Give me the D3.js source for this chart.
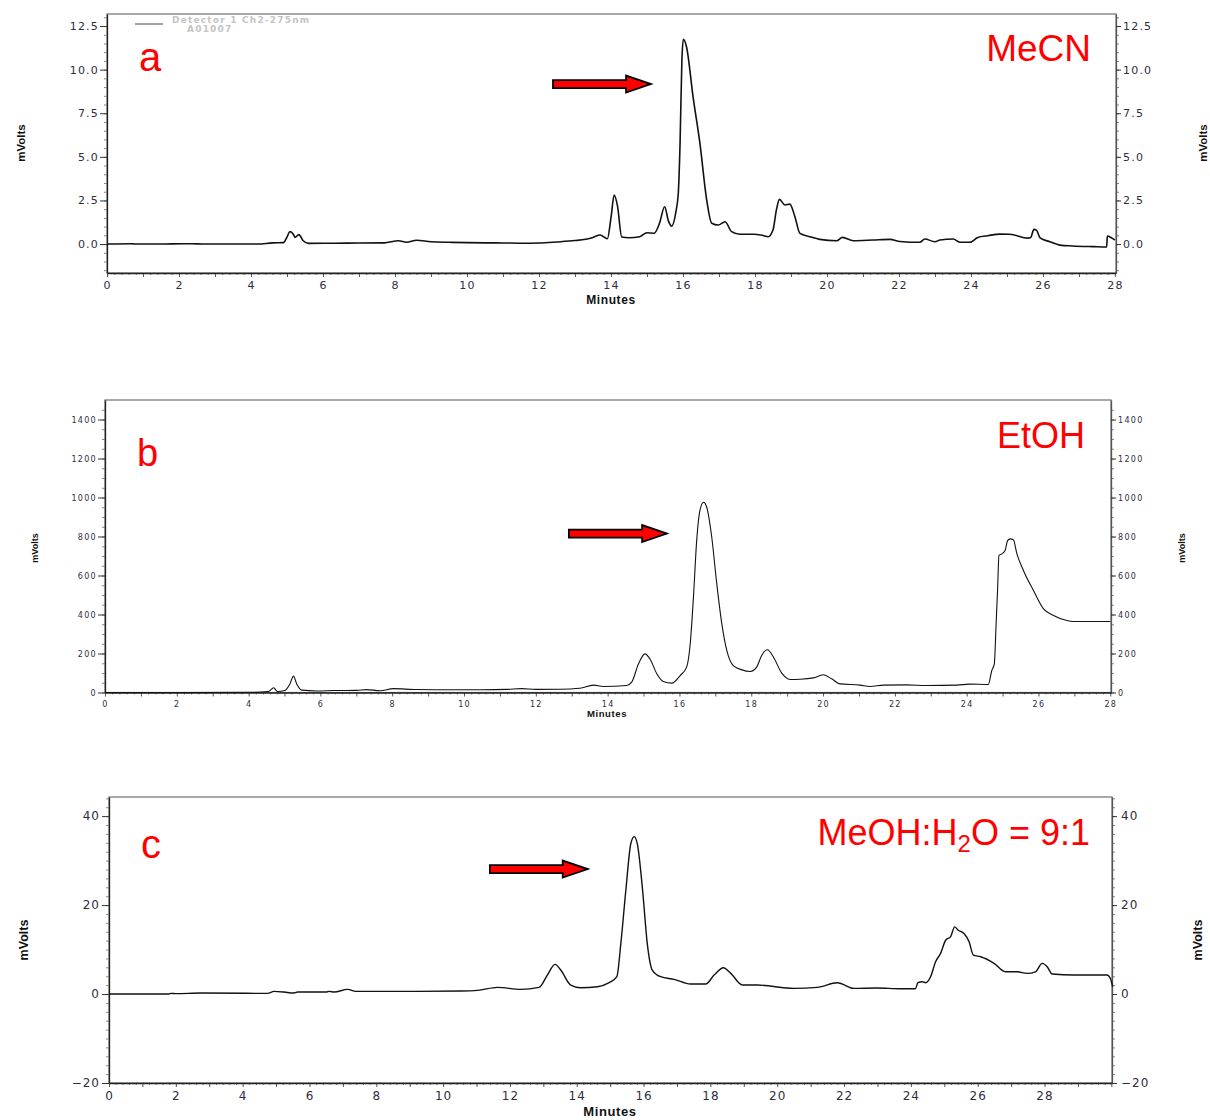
<!DOCTYPE html>
<html><head><meta charset="utf-8">
<script src="https://cdn.jsdelivr.net/npm/d3@7"></script>
<style>
html,body{margin:0;padding:0;background:#fff;}
svg{display:block;}
</style></head>
<body>
<svg id="chart" width="1210" height="1120"></svg>
<script>
// ---------- DATA ----------
const timeA = [0,0.7,0.75,1.5,2.1,2.5,3,4.2,4.6,4.9,5.0,5.08,5.18,5.22,5.33,5.45,5.6,6.3,7.0,7.7,8.1,8.32,8.6,9.0,9.5,10,10.5,11,11.5,12,12.5,13,13.3,13.5,13.7,13.9,14.0,14.09,14.18,14.3,14.5,14.8,15.0,15.2,15.35,15.49,15.6,15.69,15.8,15.87,15.92,15.97,16.01,16.1,16.28,16.47,16.66,16.8,16.98,17.17,17.35,17.58,17.96,18.2,18.37,18.5,18.6,18.68,18.83,18.97,19.11,19.25,19.53,19.8,20.27,20.43,20.73,21.28,21.75,22.03,22.58,22.72,23.0,23.14,23.51,23.69,23.97,24.19,24.47,24.8,25.08,25.58,25.66,25.75,25.82,25.92,26.2,26.47,26.83,27.4,27.77,27.79,27.9,28.0];
const signalA = [0,0.02,0,0,0.02,0.01,0,0,0.07,0.08,0.4,0.71,0.55,0.38,0.54,0.19,0.04,0.05,0.06,0.07,0.19,0.1,0.22,0.13,0.1,0.08,0.07,0.06,0.05,0.06,0.12,0.2,0.28,0.38,0.52,0.3,1.5,2.81,2.2,0.4,0.36,0.42,0.65,0.62,1.2,2.14,1.3,1.03,1.8,2.9,5.8,10.5,11.74,11.3,8.45,5.8,2.52,1.19,1.09,1.28,0.71,0.56,0.56,0.5,0.42,0.8,2.0,2.56,2.24,2.29,1.57,0.61,0.42,0.27,0.19,0.38,0.19,0.23,0.27,0.15,0.1,0.29,0.13,0.23,0.29,0.1,0.1,0.38,0.48,0.57,0.56,0.34,0.38,0.84,0.8,0.36,0.13,-0.06,-0.11,-0.15,-0.17,0.46,0.36,0.23];

const timeB = [0,4.1,4.55,4.7,4.8,5.01,5.15,5.25,5.34,5.48,5.9,6.36,7.0,7.29,7.66,8.03,8.68,9.5,10.5,11.2,11.6,12.0,12.67,13.23,13.6,13.88,14.53,14.67,14.86,15.04,15.18,15.37,15.55,15.79,16.02,16.2,16.3,16.39,16.48,16.57,16.67,16.76,16.9,17.04,17.18,17.32,17.5,17.74,17.97,18.15,18.29,18.45,18.62,18.85,19.08,19.36,19.73,20.01,20.24,20.47,21.03,21.31,21.68,22.33,22.89,23.72,24.09,24.6,24.7,24.77,24.82,24.86,24.9,24.98,25.07,25.14,25.21,25.3,25.4,25.58,25.86,26.14,26.42,26.79,26.97,28.0];
const signalB = [0,1,5,24,5,10,44,84,44,12,8,10,11,15,9,20,15,14,14,16,20,16,17,22,38,31,36,53,147,198,172,96,56,48,87,130,250,489,779,933,976,950,796,557,352,215,138,116,108,130,190,219,181,99,67,68,75,91,70,44,38,31,38,39,36,38,43,41,113,147,352,523,703,711,728,779,788,783,711,626,523,429,395,369,364,364];

const timeC = [0,1.8,1.85,2.0,2.75,4.75,4.94,5.24,5.5,5.65,6.49,6.59,6.74,7.14,7.39,9.23,10.53,11.03,11.63,12.32,12.87,13.12,13.35,13.52,13.82,14.12,14.62,14.97,15.2,15.32,15.47,15.62,15.72,15.82,15.97,16.11,16.26,16.51,16.91,17.41,17.86,18.11,18.39,18.61,18.96,19.4,20.5,21.2,21.8,22.3,22.99,23.69,24.14,24.21,24.34,24.44,24.59,24.74,24.89,25.04,25.19,25.31,25.41,25.59,25.74,25.87,26.09,26.49,26.83,27.18,27.48,27.73,27.93,28.08,28.23,28.88,29.87,29.97,30.04];
const signalC = [0,0,0.15,0.1,0.22,0.15,0.6,0.45,0.22,0.45,0.45,0.6,0.45,1.05,0.6,0.6,0.67,0.82,1.5,1.05,1.5,4.27,6.66,5.4,2.02,1.42,1.65,2.55,3.9,11.4,23.4,33.9,35.4,33.5,23.4,11.4,5.4,3.9,3.3,2.25,2.25,4.27,5.92,4.64,2.02,2.02,1.27,1.5,2.55,1.27,1.35,1.2,1.2,2.55,2.77,2.55,3.9,7.27,9.14,12.1,12.9,15.1,14.4,13.6,11.8,8.76,8.39,6.9,5.0,5.0,4.64,5.0,6.9,6.14,4.5,4.27,4.27,3.5,1.64];

const yTicksA = [0, 2.5, 5, 7.5, 10, 12.5];
const yTicksB = [0, 200, 400, 600, 800, 1000, 1200, 1400];
const yTicksC = [-20, 0, 20, 40];
const xTicksAB = [0,2,4,6,8,10,12,14,16,18,20,22,24,26,28];
const xTicksC = [0,2,4,6,8,10,12,14,16,18,20,22,24,26,28];

const panelLetters = ["a", "b", "c"];
const solventNames = ["MeCN", "EtOH", "MeOH:H2O = 9:1"];
const arrowStart = [12.39, 12.92, 11.40];   // minutes
const arrowHead  = [14.42, 14.96, 13.58];
const arrowEnd   = [15.11, 15.65, 14.33];
const arrowLevel = [9.17, 815, 28.1];       // mVolts
const legendLines = ["Detector 1 Ch2-275nm", "A01007"];

// ---------- LAYOUT ----------
const panels = [
  { t: timeA, s: signalA, box: {l:107, t:14, r:1116, b:273}, xd:[0,28.03], yd:[-1.66,13.19],
    yt: yTicksA, fmt: d3.format(".1f"), yMinor: 0.5, xt: xTicksAB,
    tickFont: 11, tickSpacing: 1.2, lw: 1.6,
    yLabR: 99, yLabRightX: 1123, xLabY: 289, minX: 611, minY: 304, minFont: 12,
    mvL: [21,143], mvR: [1203,143], mvFont: 11.5,
    letterPos: [139, 71, 40], solventPos: [1091, 61, 37] },
  { t: timeB, s: signalB, box: {l:105, t:400, r:1111, b:692.5}, xd:[0,28.02], yd:[0,1500],
    yt: yTicksB, fmt: d3.format("d"), yMinor: 50, xt: xTicksAB,
    tickFont: 8, tickSpacing: 1.3, lw: 1.1,
    yLabR: 97, yLabRightX: 1118, xLabY: 707, minX: 607, minY: 717, minFont: 9.5,
    mvL: [35,548], mvR: [1182,548], mvFont: 9,
    letterPos: [137, 466, 38], solventPos: [1085, 448, 36] },
  { t: timeC, s: signalC, box: {l:109, t:797, r:1112, b:1083}, xd:[0,30.02], yd:[-20,44.3],
    yt: yTicksC, fmt: d3.format("d"), yMinor: 2, xt: xTicksC,
    tickFont: 12, tickSpacing: 1.0, lw: 1.4,
    yLabR: 100, yLabRightX: 1121, xLabY: 1100, minX: 610, minY: 1116, minFont: 13,
    mvL: [24,940], mvR: [1198,940], mvFont: 12.5,
    letterPos: [141, 858, 40], solventPos: [1090, 845, 36] }
];

const svg = d3.select("#chart");
const tickColor = "#2e2e3e";

panels.forEach((p, i) => {
  const b = p.box;
  const x = d3.scaleLinear().domain(p.xd).range([b.l, b.r]);
  const y = d3.scaleLinear().domain(p.yd).range([b.b, b.t]);
  const g = svg.append("g");

  // frame
  g.append("rect").attr("x", b.l).attr("y", b.t).attr("width", b.r - b.l).attr("height", b.b - b.t)
    .attr("fill", "none").attr("stroke", "#707070").attr("stroke-width", 1.2);

  const styleAxis = (sel, size) => {
    sel.selectAll("path.domain").attr("stroke", "#222").attr("stroke-width", 1.3);
    sel.selectAll(".tick line").attr("stroke", "#333").attr("stroke-width", 1);
    sel.selectAll(".tick text").attr("fill", tickColor)
      .style("font-family", "'DejaVu Sans', Verdana, sans-serif")
      .style("font-size", size + "px").style("letter-spacing", p.tickSpacing + "px");
  };

  // minor y ticks
  const minorY = d3.range(Math.ceil(p.yd[0] / p.yMinor) * p.yMinor, p.yd[1], p.yMinor);
  g.append("g").attr("transform", `translate(${b.l},0)`)
    .call(d3.axisLeft(y).tickValues(minorY).tickSize(3).tickFormat(""))
    .call(s => { s.select("path.domain").remove(); s.selectAll("line").attr("stroke", "#888"); });
  g.append("g").attr("transform", `translate(${b.r},0)`)
    .call(d3.axisRight(y).tickValues(minorY).tickSize(3).tickFormat(""))
    .call(s => { s.select("path.domain").remove(); s.selectAll("line").attr("stroke", "#888"); });

  // major y ticks left
  const yl = g.append("g").attr("transform", `translate(${b.l},0)`)
    .call(d3.axisLeft(y).tickValues(p.yt).tickSize(7).tickSizeOuter(0).tickPadding(b.l - 7 - p.yLabR).tickFormat(p.fmt));
  styleAxis(yl, p.tickFont);
  // major y ticks right
  const yr = g.append("g").attr("transform", `translate(${b.r},0)`)
    .call(d3.axisRight(y).tickValues(p.yt).tickSize(5).tickSizeOuter(0).tickPadding(p.yLabRightX - b.r - 5).tickFormat(p.fmt));
  styleAxis(yr, p.tickFont);
  yr.select("path.domain").attr("stroke", "#555");

  // x minor ticks
  const minorX = d3.range(0, p.xd[1], 0.2).filter(v => Math.abs(v - Math.round(v)) > 0.01);
  g.append("g").attr("transform", `translate(0,${b.b})`)
    .call(d3.axisBottom(x).tickValues(minorX).tickSize(2).tickFormat(""))
    .call(s => { s.select("path.domain").remove(); s.selectAll("line").attr("stroke", "#777"); });
  const intX = d3.range(0, Math.floor(p.xd[1]) + 1, 1);
  g.append("g").attr("transform", `translate(0,${b.b})`)
    .call(d3.axisBottom(x).tickValues(intX).tickSize(4).tickFormat(""))
    .call(s => { s.select("path.domain").remove(); s.selectAll("line").attr("stroke", "#555"); });
  const xa = g.append("g").attr("transform", `translate(0,${b.b})`)
    .call(d3.axisBottom(x).tickValues(p.xt).tickSize(0).tickSizeOuter(0).tickPadding(p.xLabY - b.b - p.tickFont * 0.75).tickFormat(d3.format("d")));
  styleAxis(xa, p.tickFont);

  // axis titles
  const bold = "'Liberation Sans', Arial, sans-serif";
  g.append("text").attr("x", p.minX).attr("y", p.minY).attr("text-anchor", "middle")
    .style("font-family", bold).style("font-weight", "bold").style("font-size", p.minFont + "px")
    .style("letter-spacing", "0.6px").attr("fill", "#111").text("Minutes");
  [p.mvL, p.mvR].forEach(pos => {
    g.append("text").attr("transform", `translate(${pos[0]},${pos[1]}) rotate(-90)`)
      .attr("text-anchor", "middle").attr("dy", "0.35em")
      .style("font-family", bold).style("font-weight", "bold").style("font-size", p.mvFont + "px")
      .attr("fill", "#111").text("mVolts");
  });

  // trace
  const line = d3.line().x((d, k) => x(p.t[k])).y((d, k) => y(p.s[k])).curve(d3.curveMonotoneX);
  g.append("path").datum(p.s).attr("d", line).attr("fill", "none")
    .attr("stroke", "#111").attr("stroke-width", p.lw).attr("stroke-linejoin", "round");

  // red labels
  g.append("text").attr("x", p.letterPos[0]).attr("y", p.letterPos[1])
    .style("font-family", bold).style("font-size", p.letterPos[2] + "px").attr("fill", "#ff0000")
    .text(panelLetters[i]);
  const st = g.append("text").attr("x", p.solventPos[0]).attr("y", p.solventPos[1]).attr("text-anchor", "end")
    .style("font-family", bold).style("font-size", p.solventPos[2] + "px").attr("fill", "#ff0000");
  if (solventNames[i].includes("H2O")) {
    const parts = solventNames[i].split("H2O");
    st.append("tspan").text(parts[0] + "H");
    st.append("tspan").attr("dy", 7).style("font-size", "24px").text("2");
    st.append("tspan").attr("dy", -7).text("O" + parts[1]);
  } else {
    st.text(solventNames[i]);
  }

  // arrow
  const ay = y(arrowLevel[i]);
  const x0 = x(arrowStart[i]), xh = x(arrowHead[i]), x1 = x(arrowEnd[i]);
  const sh = 4, hh = 8.5;
  const pts = [[x0, ay - sh], [xh, ay - sh], [xh, ay - hh], [x1, ay], [xh, ay + hh], [xh, ay + sh], [x0, ay + sh]];
  g.append("polygon").attr("points", pts.map(q => q.join(",")).join(" "))
    .attr("fill", "#ff0000").attr("stroke", "#000").attr("stroke-width", 1.8).attr("stroke-linejoin", "miter");

  // legend (panel a only)
  if (i === 0) {
    g.append("line").attr("x1", 135).attr("x2", 163).attr("y1", 24).attr("y2", 24)
      .attr("stroke", "#444").attr("stroke-width", 1);
    g.append("text").attr("x", 172).attr("y", 23)
      .style("font-family", "'DejaVu Sans', Verdana, sans-serif").style("font-weight", "bold")
      .style("font-size", "9px").style("letter-spacing", "1.2px").attr("fill", "#c4c4c4").text(legendLines[0]);
    g.append("text").attr("x", 187).attr("y", 32)
      .style("font-family", "'DejaVu Sans', Verdana, sans-serif").style("font-weight", "bold")
      .style("font-size", "9px").style("letter-spacing", "1.2px").attr("fill", "#c4c4c4").text(legendLines[1]);
  }
});
</script>
</body></html>
